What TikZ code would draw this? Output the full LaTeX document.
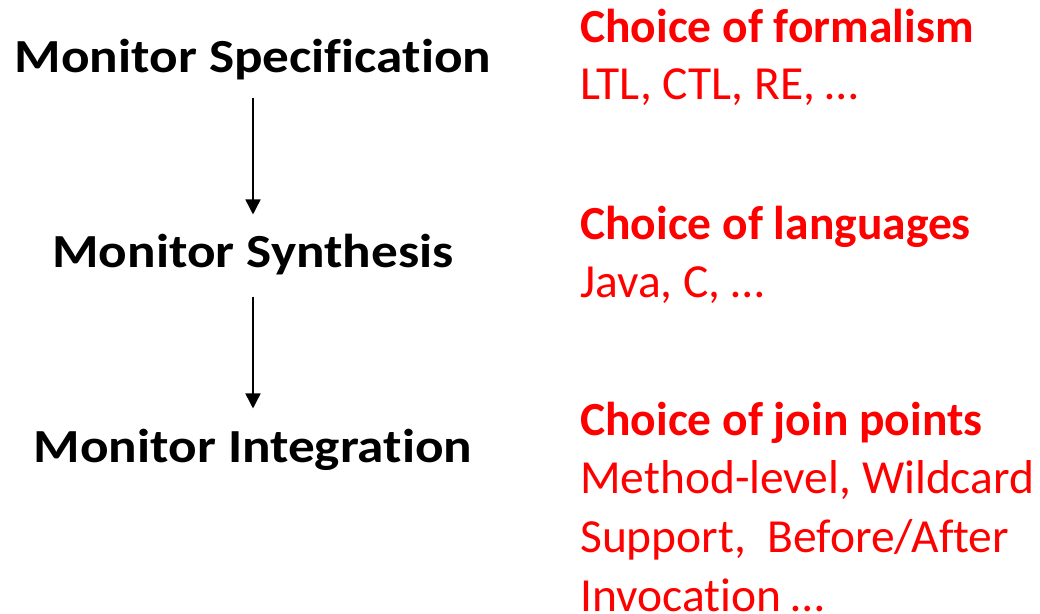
\documentclass[tikz,border=0pt]{standalone}
\usepackage{graphicx}
\usepackage{fontspec}
\setmainfont[Ligatures=NoCommon]{Carlito}
\usetikzlibrary{arrows.meta}
\definecolor{hl}{RGB}{255,0,0}
% stage titles are set slightly wide
\newcommand\widetitle[1]{\scalebox{1.12}[1]{#1}}
\tikzset{
  x=1pt, y=1pt,
  stage/.style={anchor=base, inner sep=0pt, font=\fontsize{47.5}{57}\selectfont\bfseries},
  head/.style={anchor=base west, inner sep=0pt, text=hl, font=\fontsize{47.5}{57}\selectfont\bfseries},
  note/.style={anchor=base west, inner sep=0pt, text=hl, font=\fontsize{47.5}{57}\selectfont},
  flow/.style={line width=1.6pt, -{Triangle[width=15pt,length=15pt]}, xshift=2pt}
}
\begin{document}
\begin{tikzpicture}
\useasboundingbox (0,0) rectangle (1040,613);
% pipeline stages
\node[stage] (spec)  at (253,613-73)  {\widetitle{Monitor Specification}};
\node[stage] (synth) at (253,613-268) {\widetitle{Monitor Synthesis}};
\node[stage] (integ) at (253,613-463) {\widetitle{Monitor Integration}};
% design choices per stage
\node[head] (h1) at (580,613-43)  {Choice of formalism};
\node[note] (n1) at (580,613-100) {LTL, CTL, RE, …};
\node[head] (h2) at (580,613-240) {Choice of languages};
\node[note] (n2) at (580,613-298) {Java, C, …};
\node[head] (h3) at (580,613-435) {Choice of join points};
\node[note] (n3a) at (580,613-493) {Method-level, Wildcard};
\node[note] (n3b) at (580,613-552) {Support,\ \ Before/After};
\node[note] (n3c) at (580,613-611) {Invocation …};
% arrows between stages
\draw[flow, shorten <=17pt, shorten >=20pt] (spec.south) -- (synth.north);
\draw[flow, shorten <=21pt, shorten >=21pt] (synth.south) -- (integ.north);
\end{tikzpicture}
\end{document}
